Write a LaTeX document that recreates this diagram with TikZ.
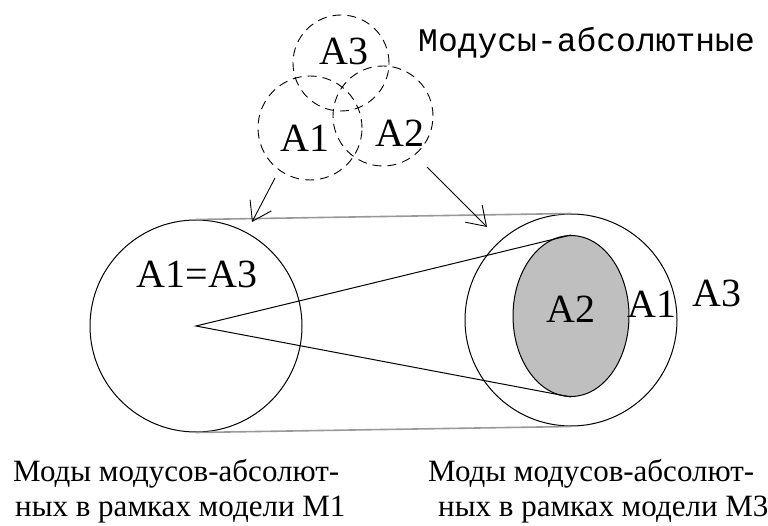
\documentclass[tikz,border=0pt]{standalone}
\usepackage{fontspec}
\setmainfont{Liberation Serif}
\newfontfamily\monofont{Liberation Mono}
\usetikzlibrary{arrows.meta,shapes.geometric}
\begin{document}
\begin{tikzpicture}[x=1pt,y=-1pt,
  big/.style={inner sep=0pt,anchor=base,font=\fontsize{40}{40}\selectfont},
  captext/.style={inner sep=0pt,anchor=base west,font=\fontsize{31}{37}\selectfont},
  dcirc/.style={circle,draw,line width=0.9pt,dash pattern=on 9pt off 6pt,inner sep=0pt},
  scirc/.style={circle,draw,line width=1pt,inner sep=0pt},
  tang/.style={draw=black!40,line width=1.6pt},
  arr/.style={line width=0.9pt,-{Straight Barb[length=18pt,width=24pt,line width=0.9pt]}}]
\useasboundingbox (0,0) rectangle (768,526);
% top dashed circles
\node[dcirc,minimum size=96pt] (d3) at (341,63) {};
\node[dcirc,minimum size=104pt] (d1) at (310,128) {};
\node[dcirc,minimum size=100pt] (d2) at (383,116) {};
\node[big] (l3) at (344,65) {A3};
\node[big] (l1) at (305,152) {A1};
\node[big] (l2) at (400,147) {A2};
\node[inner sep=0pt,anchor=base west,font=\monofont\fontsize{33}{33}\selectfont] (title) at (418,52) {Модусы-абсолютные};
% big circles
\node[scirc,minimum size=212pt] (L) at (196,326) {};
\node[scirc,minimum size=212pt] (R) at (571,320) {};
\node[ellipse,draw,line width=1pt,fill=black!25,minimum width=116pt,minimum height=161pt,inner sep=0pt] (E) at (571,316) {};
% tangents
\draw[tang] (L.north) -- (R.north);
\draw[tang] (L.south) -- (R.south);
% cone
\draw[line width=1pt] (E.north) -- (L.center) -- (E.south);
% arrows
\coordinate (as1) at (275,178);
\coordinate (ae1) at (252,222);
\coordinate (as2) at (427,167);
\coordinate (ae2) at (487,227);
\draw[arr] (as1) -- (ae1);
\draw[arr] (as2) -- (ae2);
% labels
\node[big] (lab13) at (197,288) {A1=A3};
\node[big] (rA2) at (571,323) {A2};
\node[big] (rA1) at (652,318) {A1};
\node[big] (rA3) at (717,307) {A3};
\node[captext] (c1a) at (13,481) {Моды модусов-абсолют-};
\node[captext] (c1b) at (15,516) {ных в рамках модели М1};
\node[captext] (c2a) at (428,481) {Моды модусов-абсолют-};
\node[captext] (c2b) at (438,516) {ных в рамках модели М3};
\end{tikzpicture}
\end{document}
